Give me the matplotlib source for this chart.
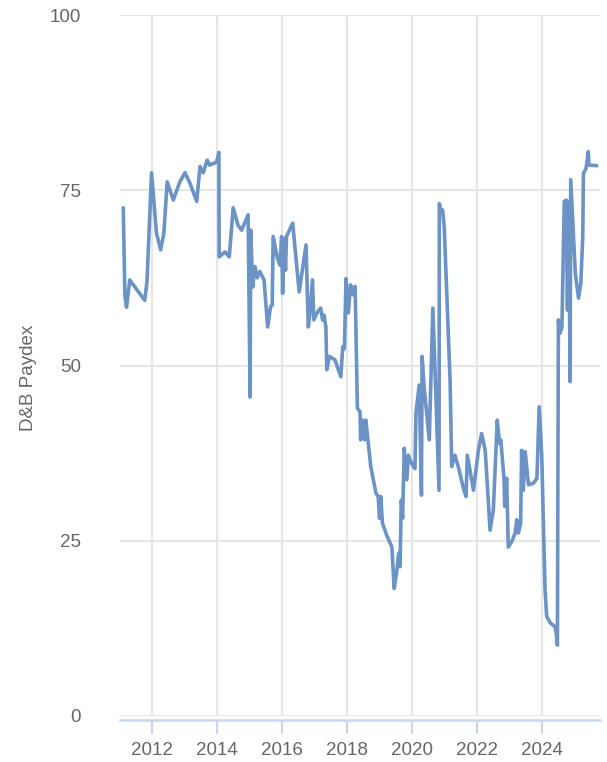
import matplotlib
matplotlib.use("Agg")
import matplotlib.pyplot as plt

# D&B Paydex (decimal year, score)
years = [
    2011.12, 2011.17, 2011.22, 2011.32, 2011.78, 2011.85, 2011.99, 2012.14, 2012.27, 2012.37,
    2012.47, 2012.66, 2012.86, 2013.02, 2013.17, 2013.38, 2013.48, 2013.58, 2013.70,
    2013.78, 2013.99, 2014.06, 2014.07, 2014.25, 2014.38, 2014.50, 2014.65, 2014.76, 2014.96,
    2015.02, 2015.04, 2015.10, 2015.17, 2015.24, 2015.32, 2015.45, 2015.56, 2015.65, 2015.70,
    2015.73, 2015.86, 2015.94, 2015.99, 2016.02, 2016.07, 2016.11, 2016.14, 2016.33, 2016.53,
    2016.74, 2016.81, 2016.86, 2016.94, 2016.98, 2017.09, 2017.19, 2017.25, 2017.29, 2017.35,
    2017.38, 2017.46, 2017.63, 2017.81, 2017.87, 2017.92, 2017.97, 2018.04, 2018.11, 2018.18,
    2018.25, 2018.32, 2018.40, 2018.42, 2018.48, 2018.54, 2018.58, 2018.73, 2018.89, 2018.96,
    2019.00, 2019.04, 2019.09, 2019.22, 2019.38, 2019.45, 2019.53, 2019.59, 2019.63, 2019.67,
    2019.71, 2019.76, 2019.84, 2019.89, 2019.94, 2020.04, 2020.09, 2020.12, 2020.22, 2020.29,
    2020.31, 2020.37, 2020.53, 2020.64, 2020.71, 2020.83, 2020.84, 2020.89, 2020.94, 2020.99,
    2021.17, 2021.22, 2021.32, 2021.42, 2021.58, 2021.66, 2021.70, 2021.78, 2021.89, 2022.04,
    2022.14, 2022.25, 2022.40, 2022.50, 2022.62, 2022.69, 2022.73, 2022.83, 2022.85, 2022.91,
    2022.96, 2023.07, 2023.17, 2023.22, 2023.27, 2023.34, 2023.37, 2023.42, 2023.48, 2023.58,
    2023.73, 2023.84, 2023.91, 2023.99, 2024.04, 2024.09, 2024.14, 2024.25, 2024.40, 2024.45,
    2024.47, 2024.50, 2024.55, 2024.61, 2024.68, 2024.74, 2024.78, 2024.82, 2024.86, 2024.88,
    2025.02, 2025.12, 2025.19, 2025.25, 2025.27, 2025.35, 2025.42, 2025.44, 2025.68,
]
paydex = [
    72.5, 60.0, 58.3, 62.2, 59.3, 62.0, 77.5, 68.9, 66.5, 68.9,
    76.2, 73.6, 76.2, 77.5, 76.0, 73.4, 78.4, 77.5, 79.3,
    78.6, 79.0, 80.4, 65.5, 66.2, 65.5, 72.5, 70.0, 69.3, 71.5,
    45.5, 69.3, 61.2, 64.1, 62.5, 63.4, 62.2, 55.5, 58.4, 58.6,
    68.4, 65.3, 64.3, 68.4, 60.3, 68.1, 63.6, 68.4, 70.3, 60.5,
    67.2, 55.5, 57.5, 62.2, 56.5, 57.6, 58.2, 56.5, 57.2, 55.5,
    49.4, 51.3, 50.8, 48.4, 52.7, 52.4, 62.4, 57.5, 61.5, 60.1,
    61.3, 43.9, 43.4, 39.4, 42.2, 39.4, 42.2, 35.6, 31.8, 31.3,
    28.2, 31.3, 27.5, 25.8, 24.1, 18.2, 20.6, 23.2, 21.3, 30.8,
    28.2, 38.2, 33.7, 37.2, 36.5, 35.6, 35.3, 43.2, 47.2, 31.5,
    51.3, 47.0, 39.4, 58.2, 48.9, 32.2, 73.1, 71.9, 72.2, 69.8,
    47.9, 35.6, 37.2, 35.6, 32.5, 31.3, 37.2, 35.1, 32.2, 37.9,
    40.3, 37.9, 26.5, 29.4, 42.2, 38.9, 39.4, 33.7, 29.9, 33.9,
    24.1, 24.9, 26.1, 28.0, 26.1, 27.5, 37.9, 32.2, 37.7, 33.0,
    33.2, 33.9, 44.1, 37.0, 27.5, 18.0, 14.2, 13.3, 12.7, 11.3,
    10.1, 56.5, 54.6, 55.5, 73.4, 73.6, 57.9, 73.4, 47.7, 76.5,
    63.2, 59.6, 61.7, 68.4, 77.4, 78.1, 80.5, 78.6, 78.5,
]
x_ticks = [2012, 2014, 2016, 2018, 2020, 2022, 2024]
y_ticks = [0, 25, 50, 75, 100]

plt.rcParams['font.family'] = ['Liberation Sans', 'DejaVu Sans']

fig = plt.figure(figsize=(6.07, 7.62), dpi=100)
ax = fig.add_axes([120 / 607, 46 / 762, 480 / 607, 701 / 762])

ax.plot(years, paydex, color='#6b93c6', linewidth=2.6, solid_joinstyle='round',
        solid_capstyle='round', zorder=3)

ax.set_xlim(2011.02, 2025.78)
ax.set_ylim(0, 100)
ax.set_xticks(x_ticks)
ax.set_yticks(y_ticks)
ax.set_xticklabels([str(t) for t in x_ticks])

ax.grid(True, color='#e6e6e6', linewidth=1.5, zorder=0)
ax.set_axisbelow(True)

for side in ['top', 'right', 'left']:
    ax.spines[side].set_visible(False)
ax.spines['bottom'].set_position(('outward', 3))
ax.spines['bottom'].set_color('#c9d6ee')
ax.spines['bottom'].set_linewidth(1.8)

ax.tick_params(axis='x', colors='#c9d6ee', length=10, width=1.5, pad=6,
               labelcolor='#666666', labelsize=13.5)
ax.tick_params(axis='y', length=0, pad=28, labelcolor='#666666', labelsize=13.5)

ax.set_ylabel('D&B Paydex', color='#666666', fontsize=13.5)
ax.yaxis.set_label_coords(-0.172, 0.482)

fig.savefig('out.png', dpi=100)
